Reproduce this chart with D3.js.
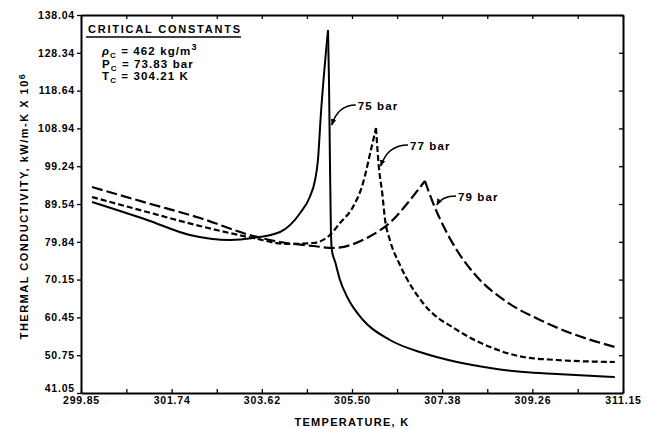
<!DOCTYPE html>
<html>
<head>
<meta charset="utf-8">
<script src="https://cdn.jsdelivr.net/npm/d3@7"></script>
<style>
  body { margin: 0; background: #fff; }
  svg { display: block; }
  text { font-family: "Liberation Sans", Arial, sans-serif; font-weight: bold; fill: #000; }
</style>
</head>
<body>
<svg id="chart" width="649" height="429"></svg>
<script>
// tick labels as printed on the chart
const xTickLabels = ["299.85", "301.74", "303.62", "305.50", "307.38", "309.26", "311.15"];
const yTickLabels = ["41.05", "50.75", "60.45", "70.15", "79.84", "89.54", "99.24", "108.94", "118.64", "128.34", "138.04"];

// 75 bar (solid)
const temp75 = [300.08, 301.23, 302.12, 302.96, 303.44, 304.00, 304.42, 304.62, 304.73, 304.79, 304.85, 305.00,
                305.02, 305.04, 305.06, 305.08, 305.15, 305.25, 305.40, 305.73, 306.29, 306.98, 307.69, 308.38, 309.07, 309.77, 310.98];
const cond75 = [90.06, 85.44, 81.59, 80.31, 80.82, 82.36, 87.24, 91.34, 95.70, 100.83, 112.38, 134.19,
                121.36, 100.83, 82.87, 77.74, 74.66, 70.04, 65.68, 59.78, 54.65, 51.31, 49.00, 47.46, 46.44, 45.93, 45.16];

// 77 bar (short dash)
const temp77 = [300.08, 301.23, 302.33, 303.44, 304.14, 304.69, 305.04, 305.25, 305.52, 305.73, 305.88, 306.00,
                306.06, 306.13, 306.19, 306.29, 306.50, 306.98, 307.69, 308.38, 309.07, 309.77, 310.98];
const cond77 = [91.34, 87.49, 83.90, 80.82, 79.28, 79.54, 81.59, 84.67, 88.77, 94.93, 102.63, 109.05,
                99.04, 92.37, 85.44, 80.31, 73.89, 64.14, 57.21, 52.85, 50.29, 49.52, 49.00];

// 79 bar (long dash)
const temp79 = [300.08, 301.23, 302.33, 303.44, 304.00, 304.69, 305.10, 305.81, 306.35, 306.71, 307.02,
                307.19, 307.48, 307.71, 308.11, 308.73, 309.42, 310.11, 310.98];
const cond79 = [93.91, 89.80, 85.95, 81.33, 79.80, 78.77, 78.26, 80.82, 85.44, 90.57, 95.45,
                89.80, 82.10, 77.23, 70.81, 64.40, 59.78, 56.19, 52.85];

const seriesNames = ["75 bar", "77 bar", "79 bar"];
// label anchor (text start) and arrow tip, in data units
const labelTemp = [305.62, 306.71, 307.71];
const labelCond = [113.66, 103.40, 90.32];
const tipTemp = [305.08, 306.10, 307.27];
const tipCond = [109.81, 99.29, 89.29];

const svg = d3.select("#chart");
const margin = {l: 81, r: 26, t: 15, b: 36};
const W = 649, H = 429;

const x = d3.scaleLinear()
    .domain([+xTickLabels[0], +xTickLabels[xTickLabels.length - 1]])
    .range([margin.l, W - margin.r]);
const y = d3.scaleLinear()
    .domain([+yTickLabels[0], +yTickLabels[yTickLabels.length - 1]])
    .range([H - margin.b, margin.t]);

let xVals = xTickLabels.map(Number);
let yVals = yTickLabels.map(Number);
let xHalf = [];
for (let i = 0; i < xVals.length; i++) {
    xHalf.push(xVals[i]);
    if (i < xVals.length - 1) xHalf.push((xVals[i] + xVals[i + 1]) / 2);
}

function styleAxis(g) {
    g.select(".domain").attr("stroke", "#000").attr("stroke-width", 2);
    g.selectAll(".tick line").attr("stroke", "#000").attr("stroke-width", 1.3);
    g.selectAll(".tick text")
        .style("font-size", "10.5px")
        .style("letter-spacing", "0.8px")
        .style("font-family", "'Liberation Sans', Arial, sans-serif")
        .style("font-weight", "bold");
}

// bottom axis
svg.append("g")
    .attr("transform", `translate(0,${H - margin.b})`)
    .call(d3.axisBottom(x).tickValues(xHalf).tickSize(-4).tickSizeOuter(0).tickPadding(4)
        .tickFormat(d => {
            let i = xVals.indexOf(d);
            return i >= 0 ? xTickLabels[i] : "";
        }))
    .call(styleAxis);

// top axis
svg.append("g")
    .attr("transform", `translate(0,${margin.t})`)
    .call(d3.axisTop(x).tickValues(xHalf).tickSize(-4).tickSizeOuter(0).tickFormat(""))
    .call(styleAxis);

// left axis
let yAxisG = svg.append("g")
    .attr("transform", `translate(${margin.l},0)`)
    .call(d3.axisLeft(y).tickValues(yVals).tickSize(4).tickSizeOuter(0).tickPadding(2)
        .tickFormat((d, i) => yTickLabels[i]))
    .call(styleAxis);
// lowest label sits a little above the corner, clear of the x labels
yAxisG.selectAll(".tick text").filter((d, i) => i === 0).attr("y", -5);

// right axis
svg.append("g")
    .attr("transform", `translate(${W - margin.r},0)`)
    .call(d3.axisRight(y).tickValues(yVals).tickSize(-4).tickSizeOuter(0).tickFormat(""))
    .call(styleAxis);

// curves, split at the peak so the cusp stays sharp
let line = d3.line()
    .x(d => x(d[0]))
    .y(d => y(d[1]))
    .curve(d3.curveMonotoneX);

function drawSeries(ts, vs, dash, width) {
    let pts = ts.map((t, i) => [t, vs[i]]);
    let peak = d3.maxIndex(vs);
    [pts.slice(0, peak + 1), pts.slice(peak)].forEach(part => {
        svg.append("path")
            .datum(part)
            .attr("d", line)
            .attr("fill", "none")
            .attr("stroke", "#000")
            .attr("stroke-width", width)
            .attr("stroke-dasharray", dash);
    });
}
drawSeries(temp75, cond75, null, 2);
drawSeries(temp77, cond77, "6,3", 2.2);
drawSeries(temp79, cond79, "11,4", 2.2);

// leader arrows and series labels
svg.append("defs").append("marker")
    .attr("id", "arrow")
    .attr("viewBox", "0 0 10 10")
    .attr("refX", 9).attr("refY", 5)
    .attr("markerWidth", 4.5).attr("markerHeight", 4.5)
    .attr("orient", "auto")
    .append("path")
    .attr("d", "M0,1L10,5L0,9Z")
    .attr("fill", "#000");

seriesNames.forEach((name, i) => {
    let sx = x(labelTemp[i]) - 2, sy = y(labelCond[i]) - 5;
    let tx = x(tipTemp[i]), ty = y(tipCond[i]);
    svg.append("path")
        .attr("d", `M${sx},${sy}Q${tx + (sx - tx) * 0.25},${sy} ${tx},${ty}`)
        .attr("fill", "none")
        .attr("stroke", "#000")
        .attr("stroke-width", 1.5)
        .attr("marker-end", "url(#arrow)");
    svg.append("text")
        .attr("x", x(labelTemp[i]))
        .attr("y", y(labelCond[i]))
        .style("font-size", "11.5px")
        .style("letter-spacing", "1.1px")
        .text(name);
});

// critical constants box
svg.append("text")
    .attr("x", 88).attr("y", 33)
    .style("font-size", "11px")
    .attr("textLength", 152)
    .attr("lengthAdjust", "spacing")
    .text("CRITICAL CONSTANTS");
svg.append("line")
    .attr("x1", 86).attr("x2", 241)
    .attr("y1", 37).attr("y2", 37)
    .attr("stroke", "#000").attr("stroke-width", 1.6);

let constRows = [
    {sym: "ρ", rest: " = 462 kg/m", sup: "3", y: 55},
    {sym: "P", rest: " = 73.83 bar", sup: "", y: 68},
    {sym: "T", rest: " = 304.21 K", sup: "", y: 80}
];
constRows.forEach(r => {
    let t = svg.append("text")
        .attr("x", 102).attr("y", r.y)
        .style("font-size", "11.5px")
        .style("letter-spacing", "1.1px");
    t.append("tspan").style("font-style", r.sym === "ρ" ? "italic" : "normal").text(r.sym);
    t.append("tspan").attr("dy", 2.5).style("font-size", "8px").text("C");
    t.append("tspan").attr("dy", -2.5).text(r.rest);
    if (r.sup) t.append("tspan").attr("dy", -5).style("font-size", "9px").text(r.sup);
});

// axis titles
svg.append("text")
    .attr("x", (x.range()[0] + x.range()[1]) / 2)
    .attr("y", 426)
    .attr("text-anchor", "middle")
    .style("font-size", "11px")
    .style("letter-spacing", "1.3px")
    .text("TEMPERATURE, K");

let yt = svg.append("text")
    .attr("transform", "translate(28,206) rotate(-90)")
    .attr("text-anchor", "middle")
    .style("font-size", "11px")
    .style("letter-spacing", "1.5px");
yt.append("tspan").text("THERMAL CONDUCTIVITY, kW/m-K X 10");
yt.append("tspan").attr("dy", -3).style("font-size", "9px").text("6");
</script>
</body>
</html>
